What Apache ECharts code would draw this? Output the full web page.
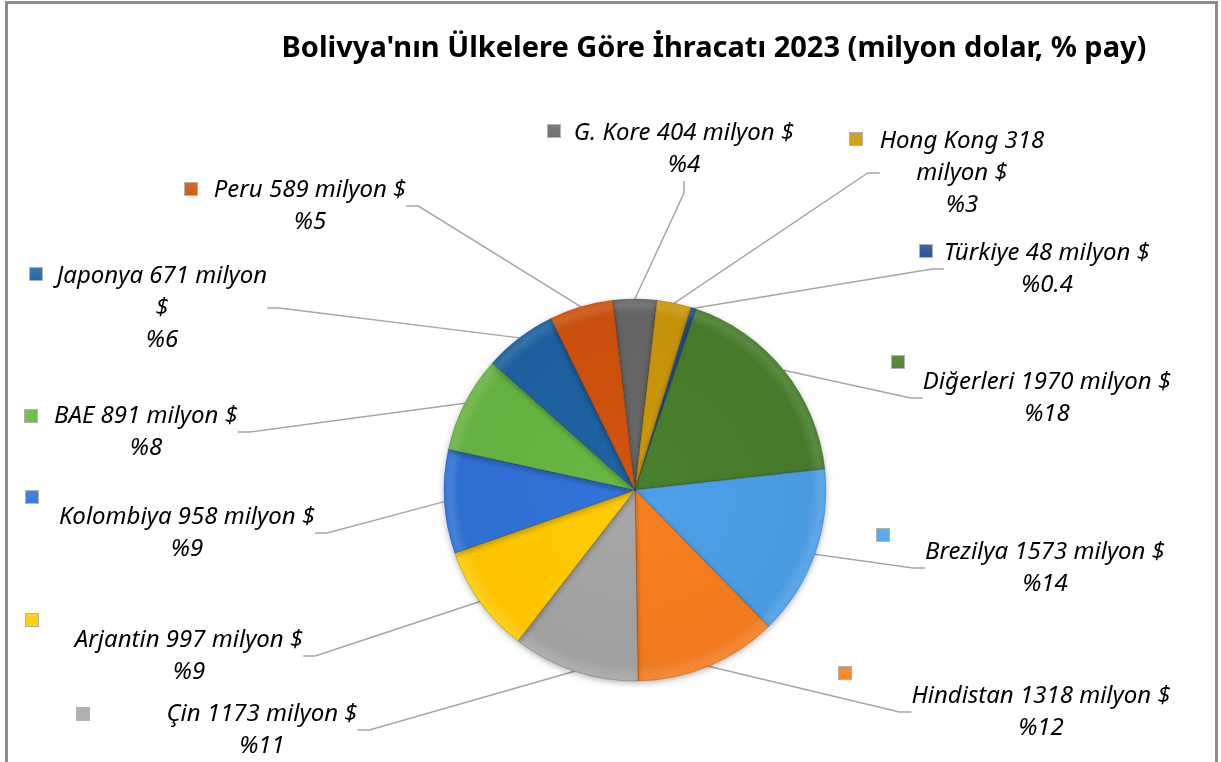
<!DOCTYPE html>
<html>
<head>
<meta charset="utf-8">
<script src="https://cdn.jsdelivr.net/npm/echarts@6/dist/echarts.min.js"></script>
<style>
  body { margin: 0; background: #fff; }
  #chart { width: 1221px; height: 762px; }
  #frame { position: absolute; left: 5px; top: 1px; width: 1207px; height: 800px; border: 3px solid #8c8c8c; pointer-events: none; }
</style>
</head>
<body>
<div id="chart"></div>
<div id="frame"></div>
<script>
// veri (saat yönünde, tepeden başlayarak)
const countries = ['G. Kore', 'Hong Kong', 'Türkiye', 'Diğerleri', 'Brezilya', 'Hindistan', 'Çin', 'Arjantin', 'Kolombiya', 'BAE', 'Japonya', 'Peru']
const exports2023 = [404, 318, 48, 1970, 1573, 1318, 1173, 997, 958, 891, 671, 589]
const shares = ['4', '3', '0.4', '18', '14', '12', '11', '9', '9', '8', '6', '5']
const colors = ['#646464', '#c4920a', '#1f4e8c', '#467a2b', '#4a9ae0', '#f07a1e', '#a0a0a0', '#fcc400', '#2f6fd0', '#64b040', '#1d5f9e', '#c8500c']

// etiket yerleşimi (ilk satır merkezi) ve gösterge kareleri
const labelPos = [[684, 133], [962, 141], [1047, 253], [1047, 382], [1045, 552], [1041, 696],
  [262, 714], [189, 640], [187, 517], [146, 416], [162, 276], [310, 190]]
const markerPos = [[554, 131], [856, 139], [926, 251], [898, 362], [883, 535], [845, 673],
  [83, 714], [32, 620], [32, 497], [31, 416], [36, 274], [191, 189]]

const chart = echarts.init(document.getElementById('chart'))

function labelText(i) {
  const name = countries[i]
  const v = exports2023[i]
  if (name === 'Hong Kong') return `${name} ${v}\nmilyon $\n%${shares[i]}`
  if (name === 'Japonya') return `${name} ${v} milyon\n$\n%${shares[i]}`
  return `${name} ${v} milyon $\n%${shares[i]}`
}

// kenarda hafif kabartma etkisi için
function bevel(c) {
  return new echarts.graphic.RadialGradient(635, 490, 191, [
    { offset: 0, color: echarts.color.lift(c, -0.05) },
    { offset: 0.92, color: c },
    { offset: 0.97, color: echarts.color.lift(c, 0.12) },
    { offset: 1, color: echarts.color.lift(c, -0.1) }
  ], true)
}

const mainData = countries.map((name, i) => ({
  name: name,
  value: exports2023[i],
  itemStyle: { color: bevel(colors[i]) }
}))

const markerData = countries.map((name, i) => ({
  name: name,
  value: exports2023[i],
  label: {
    rich: {
      m: {
        width: 12,
        height: 12,
        backgroundColor: new echarts.graphic.LinearGradient(0, 0, 0, 1, [
          { offset: 0, color: echarts.color.lift(colors[i], 0.15) },
          { offset: 1, color: echarts.color.lift(colors[i], -0.1) }
        ]),
        borderColor: 'rgba(0,0,0,0.3)',
        borderWidth: 1
      }
    }
  }
}))

const option = {
  animation: false,
  title: {
    text: "Bolivya'nın Ülkelere Göre İhracatı 2023 (milyon dolar, % pay)",
    left: 714,
    top: 34,
    textAlign: 'center',
    padding: 0,
    textStyle: {
      fontFamily: 'Noto Sans',
      fontWeight: 'bold',
      fontSize: 29,
      color: '#000'
    }
  },
  series: [
    {
      type: 'pie',
      center: [635, 490],
      radius: 191,
      startAngle: 96.7,
      clockwise: true,
      avoidLabelOverlap: false,
      data: mainData,
      itemStyle: {
        borderColor: 'rgba(0,0,0,0.18)',
        borderWidth: 1,
        shadowBlur: 6,
        shadowOffsetY: 2,
        shadowColor: 'rgba(0,0,0,0.3)'
      },
      label: {
        show: true,
        position: 'outside',
        formatter: p => labelText(p.dataIndex),
        fontFamily: 'Noto Sans',
        fontStyle: 'italic',
        fontSize: 24,
        lineHeight: 32,
        color: '#000',
        align: 'center'
      },
      labelLine: {
        show: true,
        length: 10,
        length2: 12,
        lineStyle: { color: '#a6a6a6', width: 1.5 }
      },
      labelLayout: function (params) {
        const p = labelPos[params.dataIndex]
        return { x: p[0], y: p[1] - 16, align: 'center', verticalAlign: 'top' }
      },
      emphasis: { disabled: true }
    },
    {
      type: 'pie',
      center: [635, 490],
      radius: 191,
      startAngle: 96.7,
      clockwise: true,
      silent: true,
      avoidLabelOverlap: false,
      data: markerData,
      itemStyle: { color: 'rgba(0,0,0,0)' },
      label: {
        show: true,
        position: 'outside',
        formatter: '{m|}'
      },
      labelLine: { show: false },
      labelLayout: function (params) {
        const p = markerPos[params.dataIndex]
        return { x: p[0], y: p[1], align: 'center', verticalAlign: 'middle' }
      },
      emphasis: { disabled: true }
    }
  ]
}

chart.setOption(option)
window.addEventListener('resize', () => chart.resize())
</script>
</body>
</html>
